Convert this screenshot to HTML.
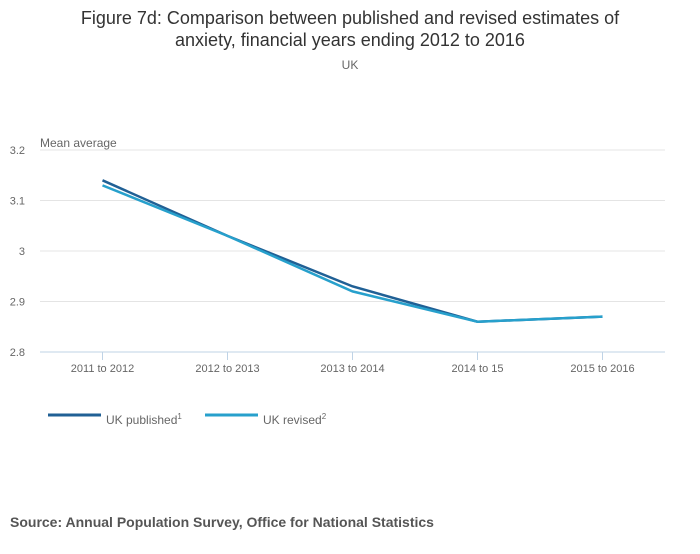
<!DOCTYPE html>
<html><head><meta charset="utf-8"><style>
body{margin:0;background:#fff;width:700px;height:549px;overflow:hidden;font-family:"Liberation Sans",sans-serif}
</style></head><body>
<svg width="700" height="549" xmlns="http://www.w3.org/2000/svg">
<text x="350" y="24" text-anchor="middle" font-size="18" fill="#333">Figure 7d: Comparison between published and revised estimates of</text>
<text x="350" y="46" text-anchor="middle" font-size="18" fill="#333">anxiety, financial years ending 2012 to 2016</text>
<text x="350" y="69" text-anchor="middle" font-size="12" fill="#666">UK</text>
<text x="40" y="147" font-size="12" fill="#666">Mean average</text>
<g id="grid"></g><g id="xaxis"></g><g id="series"></g>
<g>
<line x1="48" y1="415" x2="101" y2="415" stroke="#206095" stroke-width="3"/>
<text x="106" y="424" font-size="12" fill="#666">UK published<tspan font-size="8" dy="-5">1</tspan></text>
<line x1="205" y1="415" x2="258" y2="415" stroke="#27a0cc" stroke-width="3"/>
<text x="263" y="424" font-size="12" fill="#666">UK revised<tspan font-size="8" dy="-5">2</tspan></text>
</g>
<text x="10" y="527" font-size="14" font-weight="bold" fill="#555">Source: Annual Population Survey, Office for National Statistics</text>
</svg>
<script>
const categories=["2011 to 2012","2012 to 2013","2013 to 2014","2014 to 15","2015 to 2016"];
const published=[3.14,3.03,2.93,2.86,2.87];
const revised=[3.13,3.03,2.92,2.86,2.87];
const yTicks=[2.8,2.9,3,3.1,3.2];
const yTickLabels=["2.8","2.9","3","3.1","3.2"];
const NS="http://www.w3.org/2000/svg";
const X0=40,X1=665,Y0=352,Y1=150,yMin=2.8,yMax=3.2;
const bw=(X1-X0)/categories.length;
function xs(i){return X0+bw*(i+0.5);}
function ys(v){return Y0-(v-yMin)/(yMax-yMin)*(Y0-Y1);}
function mk(tag,attrs,parent){const e=document.createElementNS(NS,tag);for(const k in attrs)e.setAttribute(k,attrs[k]);parent.appendChild(e);return e;}
const grid=document.getElementById('grid');
yTicks.forEach((t,i)=>{
 const l=mk('line',{x1:X0,x2:X1,y1:ys(t),y2:ys(t),stroke:i===0?'#bfd3e6':'#e4e4e4','stroke-width':1},grid);
 
 
 const tx=mk('text',{x:25,y:ys(t)+4,'text-anchor':'end','font-size':11,fill:'#666'},grid);
 tx.textContent=yTickLabels[i];
 
 
});
const xa=document.getElementById('xaxis');
categories.forEach((c,i)=>{
 const l=mk('line',{x1:xs(i),x2:xs(i),y1:Y0,y2:Y0+8,stroke:'#bfd3e6'},xa);
 
 
 const tx=mk('text',{x:xs(i),y:Y0+20,'text-anchor':'middle','font-size':11,fill:'#666'},xa);
 tx.textContent=c;
 
 
});
const sg=document.getElementById('series');
[[published,'#206095','line-published'],[revised,'#27a0cc','line-revised']].forEach(([d,col,name])=>{
 const p=mk('polyline',{points:d.map((v,i)=>xs(i)+','+ys(v)).join(' '),fill:'none',stroke:col,'stroke-width':2.5},sg);
 
 
});
</script>
</body></html>
